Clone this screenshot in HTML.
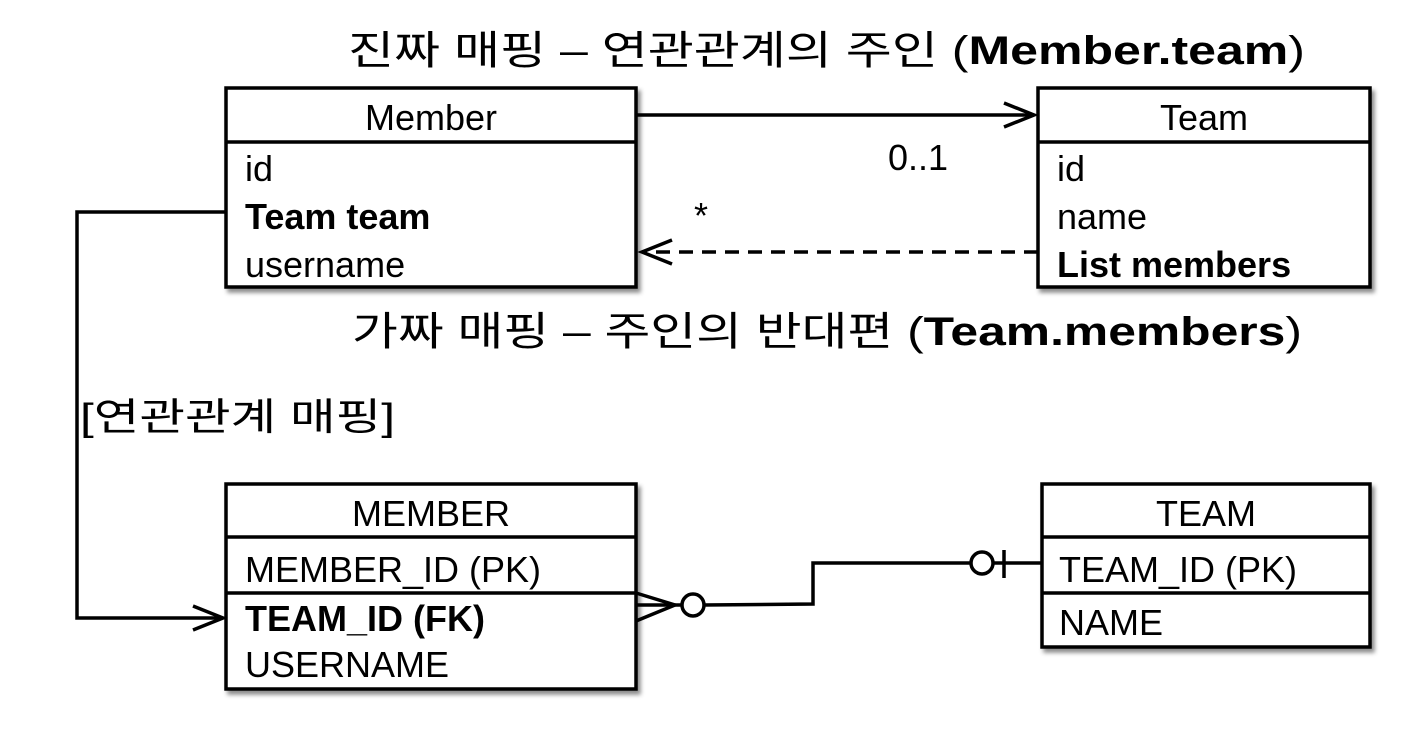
<!DOCTYPE html>
<html><head><meta charset="utf-8"><style>
html,body{margin:0;padding:0;background:#fff;}
svg{display:block;}
text{font-family:"Liberation Sans","Noto Sans CJK KR",sans-serif;fill:#000;}
</style></head><body>
<svg width="1419" height="733" viewBox="0 0 1419 733" xmlns="http://www.w3.org/2000/svg">
<defs>
<filter id="sh" x="-5%" y="-5%" width="115%" height="120%"><feDropShadow dx="3" dy="4" stdDeviation="2" flood-color="#000" flood-opacity="0.45"/></filter>
</defs>
<text x="348" y="64" font-size="40" textLength="957" lengthAdjust="spacingAndGlyphs">진짜 매핑 – 연관관계의 주인 (<tspan font-weight="bold">Member.team</tspan>)</text>
<text x="352" y="345" font-size="40" textLength="950" lengthAdjust="spacingAndGlyphs">가짜 매핑 – 주인의 반대편 (<tspan font-weight="bold">Team.members</tspan>)</text>
<text x="80" y="430" font-size="38" textLength="315" lengthAdjust="spacingAndGlyphs">[연관관계 매핑]</text>

<g stroke="#000" stroke-width="3.5" fill="#fff">
<rect x="226" y="88" width="410" height="199" filter="url(#sh)"/>
<rect x="1038" y="88" width="332" height="199" filter="url(#sh)"/>
<rect x="226" y="484" width="410" height="205" filter="url(#sh)"/>
<rect x="1042" y="484" width="328" height="163" filter="url(#sh)"/>
</g>
<g stroke="#000" stroke-width="3.5">
<line x1="226" y1="142" x2="636" y2="142"/>
<line x1="1038" y1="142" x2="1370" y2="142"/>
<line x1="226" y1="537" x2="636" y2="537"/>
<line x1="226" y1="593" x2="636" y2="593"/>
<line x1="1042" y1="537" x2="1370" y2="537"/>
<line x1="1042" y1="593" x2="1370" y2="593"/>
</g>
<g font-size="36">
<text x="431" y="130" text-anchor="middle">Member</text>
<text x="245" y="181">id</text>
<text x="245" y="229" font-weight="bold">Team team</text>
<text x="245" y="277">username</text>
<text x="1204" y="130" text-anchor="middle">Team</text>
<text x="1057" y="181">id</text>
<text x="1057" y="229">name</text>
<text x="1057" y="277" font-weight="bold">List members</text>
<text x="431" y="526" text-anchor="middle">MEMBER</text>
<text x="245" y="582">MEMBER_ID (PK)</text>
<text x="245" y="631" font-weight="bold">TEAM_ID (FK)</text>
<text x="245" y="677">USERNAME</text>
<text x="1206" y="526" text-anchor="middle">TEAM</text>
<text x="1059" y="582">TEAM_ID (PK)</text>
<text x="1059" y="635">NAME</text>
<text x="888" y="170">0..1</text>
<text x="694" y="228">*</text>
</g>
<g stroke="#000" stroke-width="3.5" fill="none">
<line x1="636" y1="115" x2="1034" y2="115"/>
<polyline points="1004,103 1034,115 1004,127"/>
<line x1="1038" y1="252" x2="642" y2="252" stroke-dasharray="14,9"/>
<polyline points="672,240 642,252 672,264"/>
<polyline points="226,212 77,212 77,618 223,618"/>
<polyline points="193,606 223,618 193,630"/>
<polyline points="636,593 675,605 636,621"/>
<line x1="636" y1="605" x2="682" y2="605"/>
<circle cx="693" cy="605" r="11" fill="#fff"/>
<polyline points="704,605 813,604 813,563 971,563"/>
<circle cx="982" cy="563" r="11" fill="#fff"/>
<line x1="993" y1="563" x2="1042" y2="563"/>
<line x1="1004" y1="550" x2="1004" y2="578"/>
</g>
</svg>
</body></html>
